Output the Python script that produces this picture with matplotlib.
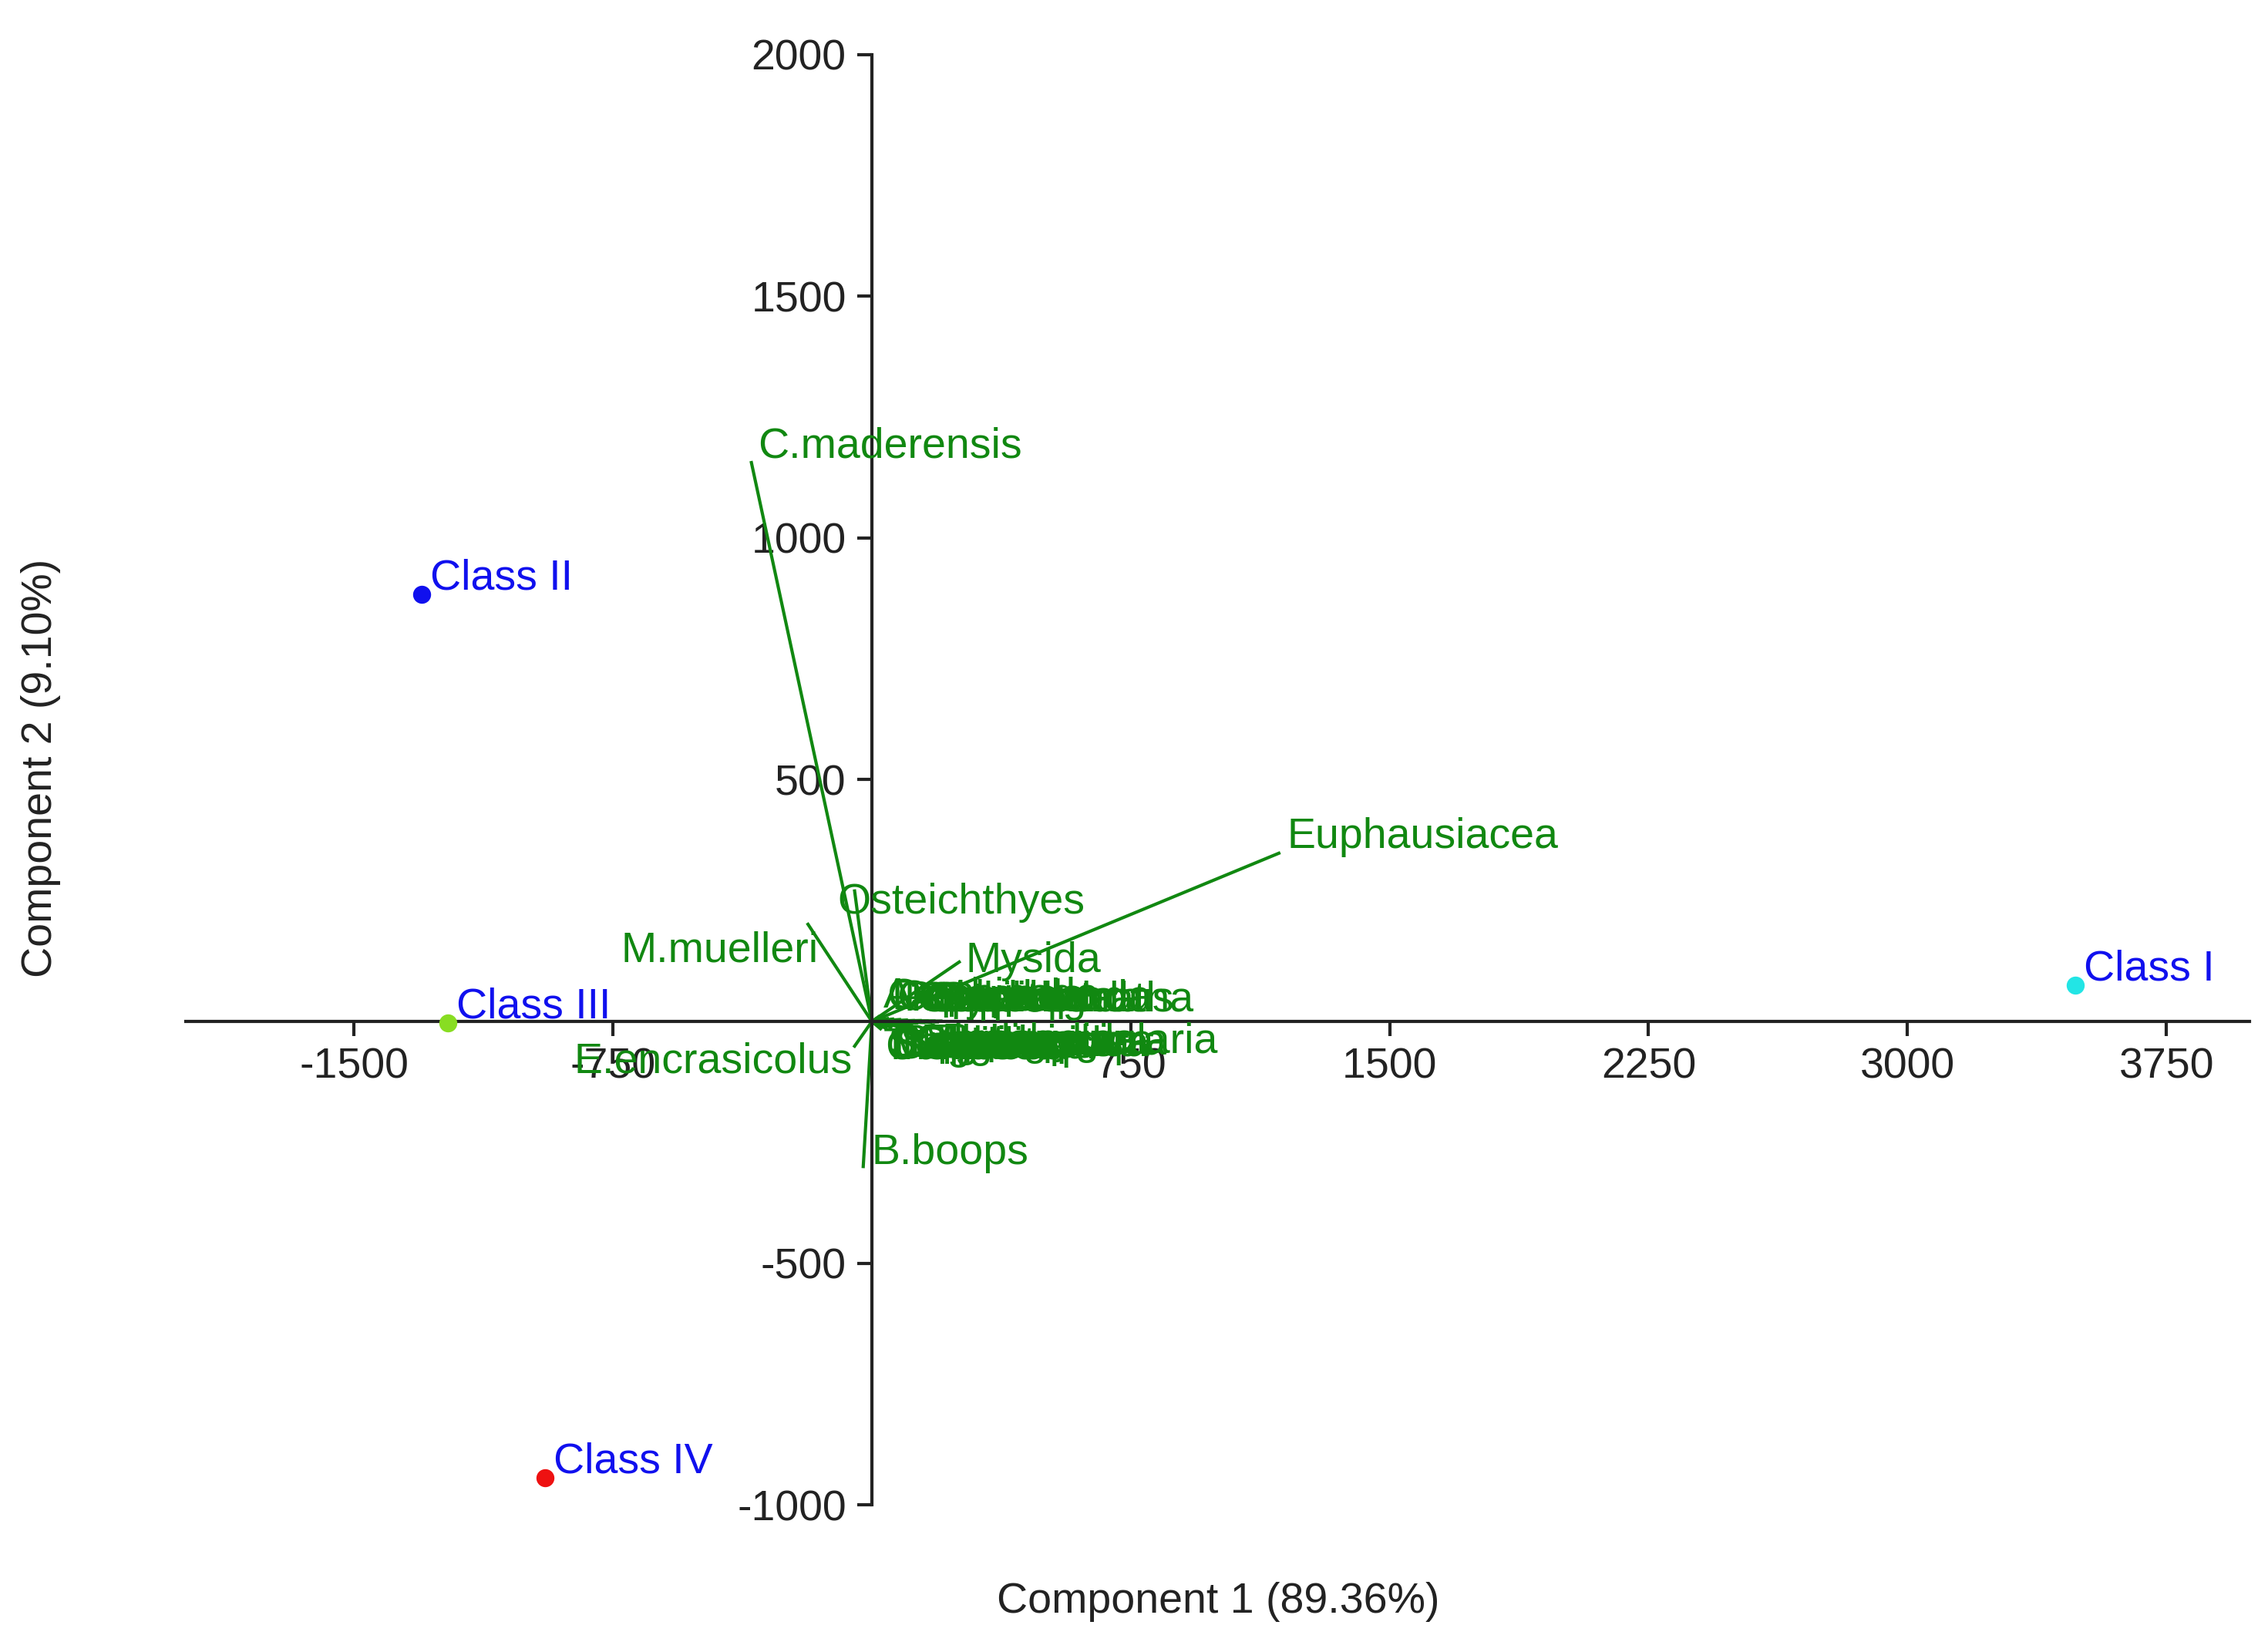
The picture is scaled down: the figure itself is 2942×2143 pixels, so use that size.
import matplotlib
matplotlib.use("Agg")
import matplotlib.pyplot as plt

plt.rcParams['font.family'] = ['Liberation Sans', 'DejaVu Sans']

classes = ["Class I", "Class II", "Class III", "Class IV"]
class_x = [3486, -1305, -1229, -947]
class_y = [75, 883, -3, -943]
class_colors = ["#22e5e5", "#1010ee", "#88dd22", "#ee1111"]

species = ["C.maderensis", "Euphausiacea", "Osteichthyes", "M.muelleri", "Mysida",
           "E.encrasicolus", "B.boops",
           "Amphipoda", "Copepoda", "Decapoda", "Cephalopoda", "Polychaeta", "Isopoda",
           "Ostracoda", "Chaetognatha", "Salpida", "S.pilchardus", "Pteropoda",
           "T.trachurus", "Sergestes sp.", "P.sivado", "Siphonophora", "L.pelagicus",
           "Gastropoda", "M.norvegica", "Thaliacea", "Appendicularia", "Brachyura",
           "Cumacea", "Mollusca", "Sagitta sp.", "Loligo sp.", "Lepidion", "Ophiuroidea"]
sp_x = [-349, 1179, -50, -185, 253, -50, -25,
        20, 30, 45, 60, 80, 100, 120, 140, 160, 180, 200,
        20, 35, 50, 70, 90, 110, 130, 150, 170, 190,
        25, 40, 55, 75, 95, 115]
sp_y = [1156, 348, 270, 201, 123, -51, -300,
        10, 8, 6, 5, 4, 3, 2, 2, 1, 1, 1,
        -10, -8, -6, -5, -4, -3, -3, -2, -2, -1,
        -15, -14, -12, -10, -9, -8]

label_off = {"C.maderensis": (6, -4, "left", "bottom"),
             "Euphausiacea": (8, -4, "left", "bottom"),
             "Osteichthyes": (-16, -30, "left", "bottom"),
             "M.muelleri": (10, -6, "right", "top"),
             "Mysida": (6, -18, "left", "bottom"),
             "E.encrasicolus": (-2, 4, "right", "top"),
             "B.boops": (8, -6, "left", "bottom")}

dpi = 100
fig = plt.figure(figsize=(29.42, 21.43), dpi=dpi)
ax = fig.add_axes([0.082, 0.089, 0.910, 0.878])
ax.set_xlim(-1987, 3992)
ax.set_ylim(-1000, 2000)

green = "#118811"
fs = 40
for n, x, y in zip(species, sp_x, sp_y):
    ax.plot([0, x], [0, y], color=green, lw=3, zorder=2)
    if n in label_off:
        dx, dy, ha, va = label_off[n]
    else:
        dx, dy, ha, va = 4, 0, "left", ("bottom" if y > 0 else "top")
    ax.annotate(n, (x, y), xytext=(dx, dy), textcoords="offset points", ha=ha,
                va=va, color=green, fontsize=fs)

for n, x, y, c in zip(classes, class_x, class_y, class_colors):
    ax.scatter([x], [y], s=250, color=c, zorder=3)
    ax.annotate(n, (x, y), xytext=(8, -4), textcoords="offset points", ha="left",
                va="bottom", color="#1010ee", fontsize=fs)

for s in ["top", "right"]:
    ax.spines[s].set_visible(False)
ax.spines["left"].set_position(("data", 0))
ax.spines["bottom"].set_position(("data", 0))
for s in ["left", "bottom"]:
    ax.spines[s].set_linewidth(3)
    ax.spines[s].set_color("#222222")
xt = [-1500, -750, 750, 1500, 2250, 3000, 3750]
yt = [-1000, -500, 500, 1000, 1500, 2000]
ax.set_xticks(xt)
ax.set_yticks(yt)
ax.set_xticklabels([str(v) for v in xt])
ax.set_yticklabels([str(v) for v in yt])
ax.tick_params(axis="both", labelsize=fs, length=14, width=3, colors="#222222", pad=10)
fig.text(0.537, 0.018, "Component 1 (89.36%)", ha="center", va="bottom", fontsize=fs, color="#222222")
fig.text(0.018, 0.535, "Component 2 (9.10%)", ha="center", va="center", rotation=90, fontsize=fs, color="#222222")
fig.savefig("out.png", dpi=dpi, facecolor="white")
